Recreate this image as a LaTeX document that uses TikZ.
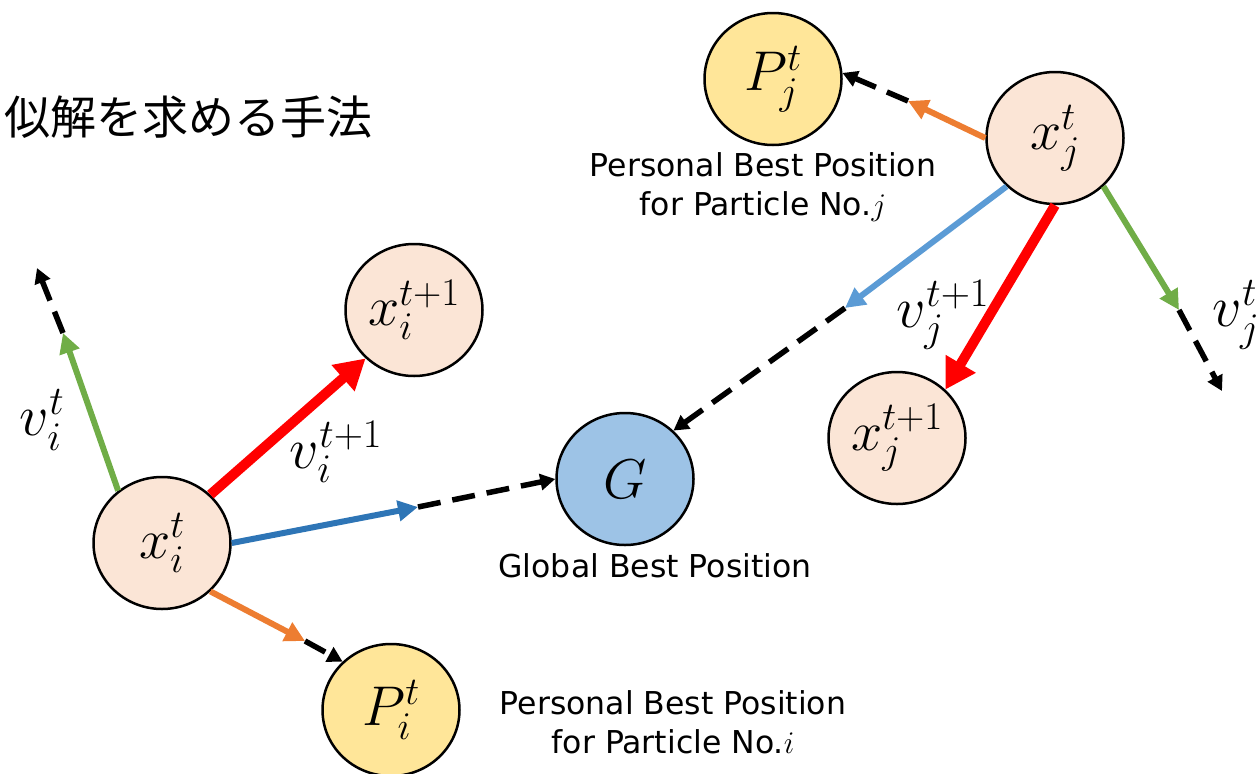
\RequirePackage{fix-cm}
\documentclass[tikz,border=0pt]{standalone}
\usepackage{fontspec}
\setsansfont{DejaVu Sans}
\newfontfamily\cjk{Noto Sans CJK JP}
\usetikzlibrary{arrows.meta,shapes.geometric}
\definecolor{psoPeach}{HTML}{FBE5D6}
\definecolor{psoGold}{HTML}{FFE699}
\definecolor{psoSky}{HTML}{9DC3E6}
\definecolor{psoRed}{HTML}{FF0000}
\definecolor{psoGreen}{HTML}{70AD47}
\definecolor{psoBlue}{HTML}{2E75B6}
\definecolor{psoLight}{HTML}{5B9BD5}
\definecolor{psoOrange}{HTML}{ED7D31}

\begin{document}
\begin{tikzpicture}[x=1pt, y=-1pt,
  ptcl/.style={draw, ellipse, line width=2.5pt, minimum width=137pt, minimum height=132pt, inner sep=0pt, font=\fontsize{56}{62}\selectfont},
  bestlbl/.style={font=\sffamily\fontsize{31.5}{39}\selectfont, align=center, inner sep=0pt},
  sym/.style={font=\fontsize{58}{64}\selectfont, inner sep=0pt},
  vec/.style={line width=6pt, -{Triangle[length=20pt, width=20pt]}},
  upd/.style={line width=10pt, psoRed, -{Triangle[length=30pt, width=33pt]}},
  guide/.style={line width=5.5pt, dash pattern=on 23pt off 12pt, -{Triangle[length=15pt, width=16pt]}}]
\useasboundingbox (0,0) rectangle (1259,774);

\node[anchor=west, inner sep=0pt, font=\cjk\fontsize{46}{50}\selectfont] (title) at (4,117) {似解を求める手法};

\node[ptcl, fill=psoPeach] (xi) at (162,543) {$x_i^t$};
\node[ptcl, fill=psoPeach] (xinext) at (414,310) {\makebox[0pt]{$x_i^{t+1}$}};
\node[ptcl, fill=psoGold] (Pi) at (391,710) {$P_i^t$};
\node[ptcl, fill=psoSky] (G) at (625,479) {$G$};
\node[ptcl, fill=psoPeach] (xj) at (1055,138) {$x_j^t$};
\node[ptcl, fill=psoPeach] (xjnext) at (897,438) {\makebox[0pt]{$x_j^{t+1}$}};
\node[ptcl, fill=psoGold] (Pj) at (773,79) {$P_j^t$};

\node[bestlbl] (lblG) at (655,566) {Global Best Position};
\node[bestlbl] (lblPi) at (673,722) {Personal Best Position\\for Particle No.$i$};
\node[bestlbl] (lblPj) at (763,187) {Personal Best Position\\for Particle No.$j$};

\coordinate (vi) at (63,333);
\coordinate (vitip) at (37,268);
\coordinate (gi) at (418,507);
\coordinate (pi) at (305,641);
\coordinate (pj) at (908,101);
\coordinate (gj) at (845,308);
\coordinate (vj) at (1179,310);
\coordinate (vjtip) at (1222,391);

\draw[guide] (vi) -- (vitip);
\draw[guide] (gi) -- (G.west);
\draw[guide] (pi) -- (Pi.135);
\draw[guide] (pj) -- (Pj.5);
\draw[guide] (gj) -- (G.45);
\draw[guide] (vj) -- (vjtip);

\draw[vec, psoGreen] (xi.130) -- (vi);
\draw[vec, psoBlue] (xi.east) -- (gi);
\draw[vec, psoOrange] (xi.-45) -- (pi);
\draw[upd] (xi.45) -- (xinext.-135);
\draw[vec, psoOrange] (xj.180) -- (pj);
\draw[vec, psoLight] (xj.-135) -- (gj);
\draw[vec, psoGreen] (xj.-45) -- (vj);
\draw[upd] (xj.south) -- (xjnext.45);

\node[sym] (lblvi) at (42,420) {$v_i^t$};
\node[sym] (lblvinext) at (336,452) {$v_i^{t+1}$};
\node[sym] (lblvjnext) at (943,315) {$v_j^{t+1}$};
\node[sym] (lblvj) at (1236,315) {$v_j^t$};
\end{tikzpicture}
\end{document}
